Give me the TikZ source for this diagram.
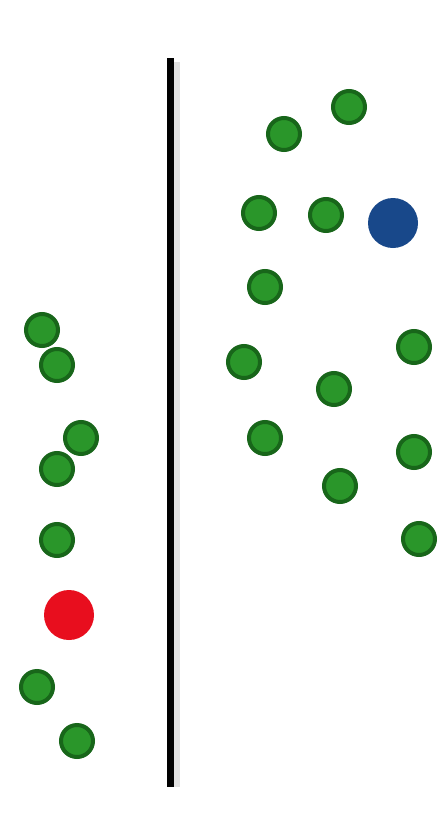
\documentclass[tikz,border=0pt]{standalone}
\definecolor{gfill}{RGB}{42,150,42}
\definecolor{gring}{RGB}{24,102,26}
\definecolor{bdot}{RGB}{24,72,138}
\definecolor{rdot}{RGB}{232,14,30}
\tikzset{
  gdot/.style={circle, draw=gring, fill=gfill, line width=4pt, minimum size=32pt, inner sep=0pt},
  bigdot/.style={circle, minimum size=50pt, inner sep=0pt},
  wall/.style={line width=7pt, black},
  wallshade/.style={line width=6pt, black!12}
}
\begin{document}
\begin{tikzpicture}[x=1pt,y=-1pt]
\useasboundingbox[fill=white] (0,0) rectangle (437,819);
\coordinate (wt) at (170,58);
\coordinate (wb) at (170,787);
\coordinate (st) at (177,62);
\coordinate (sb) at (177,787);
\draw[wallshade] (st) -- (sb);
\draw[wall] (wt) -- (wb);
% right side
\node[gdot] (r1) at (349,107) {};
\node[gdot] (r2) at (284,134) {};
\node[gdot] (r3) at (259,213) {};
\node[gdot] (r4) at (326,215) {};
\node[gdot] (r5) at (265,287) {};
\node[gdot] (r6) at (414,347) {};
\node[gdot] (r7) at (244,362) {};
\node[gdot] (r8) at (334,389) {};
\node[gdot] (r9) at (265,438) {};
\node[gdot] (r10) at (414,452) {};
\node[gdot] (r11) at (340,486) {};
\node[gdot] (r12) at (419,539) {};
\node[bigdot, fill=bdot] (blue) at (393,223) {};
% left side
\node[gdot] (l1) at (42,330) {};
\node[gdot] (l2) at (57,365) {};
\node[gdot] (l3) at (81,438) {};
\node[gdot] (l4) at (57,469) {};
\node[gdot] (l5) at (57,540) {};
\node[gdot] (l6) at (37,687) {};
\node[gdot] (l7) at (77,741) {};
\node[bigdot, fill=rdot] (red) at (69,615) {};
\end{tikzpicture}
\end{document}
